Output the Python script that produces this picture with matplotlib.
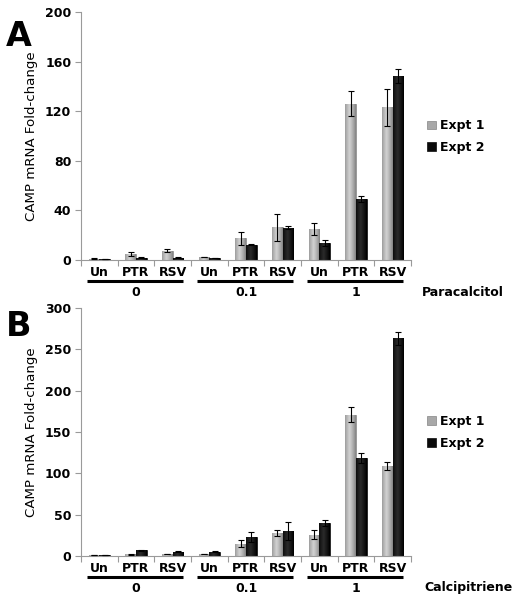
import matplotlib
matplotlib.use("Agg")
import matplotlib.pyplot as plt
from matplotlib.colors import LinearSegmentedColormap
import numpy as np

plt.rcParams['font.family'] = 'DejaVu Sans'

treatments = ['Un', 'PTR', 'RSV']
doses = ['0', '0.1', '1']
series = ['Expt 1', 'Expt 2']

# panel A - Paracalcitol
a_expt1 = [1, 5, 7.5, 2.5, 17.5, 26.5, 25, 126, 123]
a_expt1_err = [0.3, 1.5, 1, 0.3, 5, 11, 5, 10, 15]
a_expt2 = [1, 2, 2, 1.5, 12.5, 26, 13.5, 49.5, 148.5]
a_expt2_err = [0.2, 0.3, 0.3, 0.2, 0.5, 1.2, 2.5, 2.5, 5.5]

# panel B - Calcipitriene
b_expt1 = [1, 2, 2.5, 2.5, 15, 27.5, 25.5, 171, 108.5]
b_expt1_err = [0.3, 0.5, 0.5, 0.5, 4.5, 3.5, 5.5, 9, 5]
b_expt2 = [1, 7, 5, 5, 23, 30, 39.5, 118.5, 263.5]
b_expt2_err = [0.2, 0.5, 0.5, 0.5, 6, 11, 3.5, 6, 8]

gray = '#a8a8a8'
black = '#0a0a0a'
axis_col = '#9a9a9a'

# shading across the bar width (dark edges, light band left of centre)
t = np.linspace(0, 1, 32)
shade = np.clip(1 - np.abs(t - 0.42) / 0.55, 0, 1) ** 0.8
gray_cmap = LinearSegmentedColormap.from_list('g', ['#868686', '#d2d2d2'])
black_cmap = LinearSegmentedColormap.from_list('k', ['#000000', '#2a2a2a'])

fig = plt.figure(figsize=(5.16, 6.02), dpi=100)


def shade_bars(ax, bars, cmap):
    for r in bars.patches:
        x0, y0 = r.get_x(), r.get_y()
        im = ax.imshow(shade[np.newaxis, :], cmap=cmap, vmin=0, vmax=1,
                       extent=[x0, x0 + r.get_width(), y0, y0 + r.get_height()],
                       aspect='auto', zorder=1.5, interpolation='bilinear')
        im.set_clip_path(r)


def panel(rect, e1, e1err, e2, e2err, ymax, ystep, letter, letter_y, drug, drug_x, leg_y):
    ax = fig.add_axes(rect)
    x = np.arange(len(e1))
    w = 0.29
    ekw = dict(ecolor='black', elinewidth=0.8, capsize=2.5, capthick=0.8, zorder=3)
    b1 = ax.bar(x - w / 2, e1, w, yerr=e1err, color=gray, edgecolor='#858585',
                linewidth=0.5, error_kw=ekw, label=series[0])
    b2 = ax.bar(x + w / 2, e2, w, yerr=e2err, color=black, edgecolor=black,
                linewidth=0.5, error_kw=ekw, label=series[1])
    shade_bars(ax, b1, gray_cmap)
    shade_bars(ax, b2, black_cmap)

    ax.set_xlim(-0.5, len(e1) - 0.5)
    ax.set_ylim(0, ymax)
    ax.set_yticks(np.arange(0, ymax + 1, ystep))
    ax.set_yticklabels([str(v) for v in np.arange(0, ymax + 1, ystep)],
                       fontsize=9, fontweight='bold')
    ax.tick_params(axis='y', length=4, width=0.8, color=axis_col, pad=3)

    ax.set_xticks(x)
    ax.set_xticklabels(treatments * len(doses), fontsize=9, fontweight='bold')
    ax.tick_params(axis='x', length=0, pad=4)
    ax.set_xticks(np.arange(-0.5, len(e1)), minor=True)
    ax.tick_params(axis='x', which='minor', length=4, width=0.8, color=axis_col)

    for s in ['top', 'right']:
        ax.spines[s].set_visible(False)
    for s in ['left', 'bottom']:
        ax.spines[s].set_color(axis_col)
        ax.spines[s].set_linewidth(0.8)

    ax.set_ylabel('CAMP mRNA Fold-change', fontsize=9.6, labelpad=5)

    trans = ax.get_xaxis_transform()
    px = 1.0 / (rect[3] * 602)
    for g, d in enumerate(doses):
        x0 = g * 3
        ax.plot([x0 - 0.34, x0 + 2.28], [-21 * px, -21 * px], color='black',
                lw=2.2, transform=trans, clip_on=False, solid_capstyle='butt')
        ax.text(x0 + 1, -32 * px, d, transform=trans, ha='center', va='center',
                fontsize=9, fontweight='bold')
    ax.text(drug_x, -32 * px, drug, transform=trans, ha='center', va='center',
            fontsize=9, fontweight='bold')

    fig.text(6 / 516, letter_y, letter, fontsize=24, fontweight='bold',
             ha='left', va='center')

    ax.legend(handles=[b1, b2], loc='center left', bbox_to_anchor=(427 / 516, leg_y),
              bbox_transform=fig.transFigure, frameon=False,
              prop={'weight': 'bold', 'size': 9}, handlelength=0.7,
              handleheight=0.7, handletextpad=0.3, labelspacing=0.7,
              borderpad=0, borderaxespad=0)
    return ax


panel([81 / 516, (602 - 260) / 602, 330 / 516, 248 / 602],
      a_expt1, a_expt1_err, a_expt2, a_expt2_err, 200, 40,
      'A', 1 - 36.5 / 602, 'Paracalcitol', 9.92, 1 - 136.7 / 602)
panel([81 / 516, (602 - 556) / 602, 330 / 516, 248 / 602],
      b_expt1, b_expt1_err, b_expt2, b_expt2_err, 300, 50,
      'B', 1 - 326 / 602, 'Calcipitriene', 10.08, 1 - 432.3 / 602)

fig.savefig('out.png', dpi=100)
